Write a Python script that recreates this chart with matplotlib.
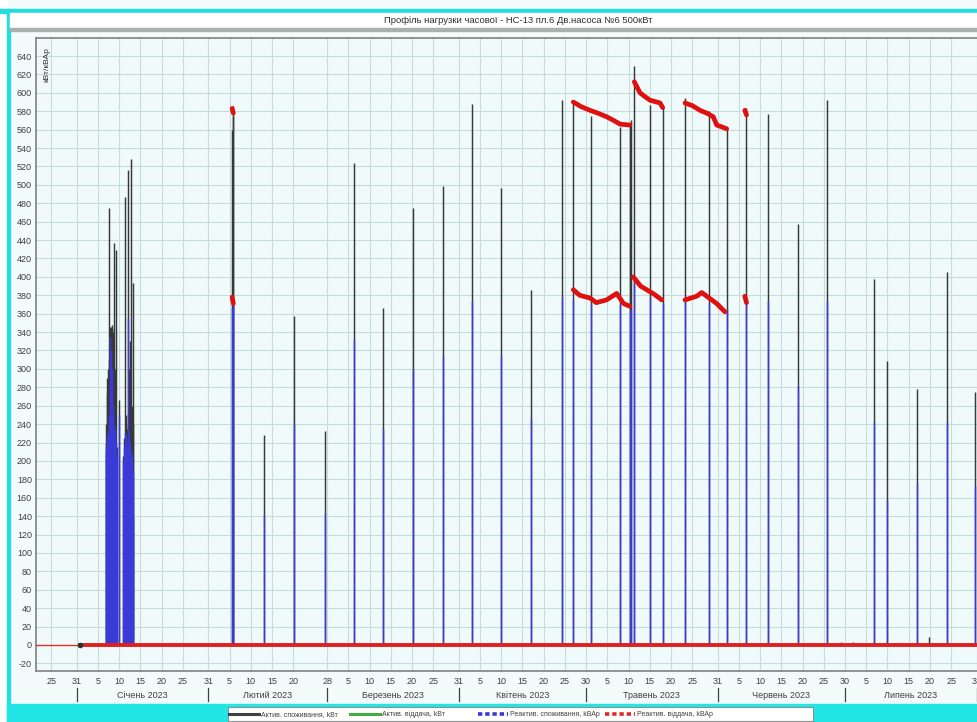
import matplotlib
matplotlib.use('Agg')
import matplotlib.pyplot as plt
import matplotlib.patches as patches
import matplotlib.transforms as mtransforms
import numpy as np
import pandas as pd

plt.rcParams['font.family'] = ['Liberation Sans', 'DejaVu Sans']

title = 'Профіль нагрузки часової - НС-13 пл.6 Дв.насоса №6 500кВт'
y_label = 'кВт/кВАр'
legend_labels = ['Актив. споживання, kВт', 'Актив. віддача, kВт',
                 'Реактив. споживання, kВАр', 'Реактив. віддача, kВАр']
month_labels = ['Січень 2023', 'Лютий 2023', 'Березень 2023', 'Квітень 2023',
                'Травень 2023', 'Червень 2023', 'Липень 2023']
month_starts = ['2023-01-01', '2023-02-01', '2023-03-01', '2023-04-01',
                '2023-05-01', '2023-06-01', '2023-07-01', '2023-08-01']
tick_days = ['2022-12-25', '2022-12-31',
             '2023-01-05', '2023-01-10', '2023-01-15', '2023-01-20', '2023-01-25', '2023-01-31',
             '2023-02-05', '2023-02-10', '2023-02-15', '2023-02-20', '2023-02-28',
             '2023-03-05', '2023-03-10', '2023-03-15', '2023-03-20', '2023-03-25', '2023-03-31',
             '2023-04-05', '2023-04-10', '2023-04-15', '2023-04-20', '2023-04-25', '2023-04-30',
             '2023-05-05', '2023-05-10', '2023-05-15', '2023-05-20', '2023-05-25', '2023-05-31',
             '2023-06-05', '2023-06-10', '2023-06-15', '2023-06-20', '2023-06-25', '2023-06-30',
             '2023-07-05', '2023-07-10', '2023-07-15', '2023-07-20', '2023-07-25', '2023-07-31']

# pump runs: time, active peak (kW), reactive peak (kVAr)
run_times = ['2023-01-07 19:00', '2023-01-07 22:30', '2023-01-08 02:00', '2023-01-08 05:30',
             '2023-01-08 09:00', '2023-01-08 12:30', '2023-01-08 16:00', '2023-01-08 19:30',
             '2023-01-08 23:00', '2023-01-09 02:30', '2023-01-09 06:00', '2023-01-09 09:00',
             '2023-01-09 12:00', '2023-01-09 15:30', '2023-01-09 19:00', '2023-01-09 23:30',
             '2023-01-10 04:30', '2023-01-10 09:00', '2023-01-11 01:00',
             '2023-01-12 00:30', '2023-01-12 04:30', '2023-01-12 09:00', '2023-01-12 13:00',
             '2023-01-12 17:30', '2023-01-12 21:30', '2023-01-13 03:45', '2023-01-13 07:00',
             '2023-01-13 10:30', '2023-01-13 14:30', '2023-01-13 19:00', '2023-01-13 23:30',
             '2023-01-14 03:30', '2023-01-14 08:00',
             '2023-02-06 14:00', '2023-02-06 18:00', '2023-02-06 22:00',
             '2023-02-14 04:30', '2023-02-21 04:30', '2023-02-28 12:00', '2023-03-07 07:40',
             '2023-03-14 03:40', '2023-03-21 05:20', '2023-03-28 05:20', '2023-04-04 04:30',
             '2023-04-10 22:50', '2023-04-18 00:30', '2023-04-25 06:00', '2023-04-27 23:45',
             '2023-05-02 02:00', '2023-05-08 23:45', '2023-05-11 10:00', '2023-05-11 14:00',
             '2023-05-12 08:40', '2023-05-16 01:30', '2023-05-19 01:10', '2023-05-24 07:10',
             '2023-05-30 00:30', '2023-06-03 03:00', '2023-06-07 14:30', '2023-06-12 22:00',
             '2023-06-19 23:45', '2023-06-26 19:40', '2023-06-30 00:00', '2023-07-02 21:00',
             '2023-07-07 19:40', '2023-07-10 19:25', '2023-07-17 21:00', '2023-07-20 19:00',
             '2023-07-25 02:10', '2023-07-31 14:25']
run_active = [220, 240, 274, 290,
              300, 310, 475, 330,
              345, 346, 348, 344,
              340, 338, 437, 300,
              429, 215, 266,
              205, 225, 487, 250,
              240, 235, 516, 300,
              330, 280, 528, 260,
              240, 393,
              560, 586, 575,
              228, 357, 232, 524,
              366, 475, 499, 588,
              497, 386, 592, 590,
              575, 563, 565, 571,
              629, 587, 583, 594,
              580, 562, 584, 577,
              458, 592, 3, 3,
              398, 309, 278, 9,
              405, 275]
run_reactive = [210, 215, 225, 228,
                232, 235, 250, 280,
                335, 320, 300, 280,
                260, 250, 240, 235,
                220, 205, 250,
                200, 215, 230, 228,
                225, 220, 355, 230,
                220, 215, 210, 205,
                190, 140,
                366, 372, 368,
                141, 240, 143, 332,
                235, 300, 314, 374,
                314, 247, 378, 376,
                372, 370, 362, 365,
                400, 378, 372, 376,
                372, 365, 374, 374,
                281, 374, 0, 0,
                242, 157, 176, 0,
                242, 173]

# reactive output trace, None splits the pieces
red_top_times = ['2023-02-06 14:30', '2023-02-06 21:30', None,
                 '2023-04-27 23:45', '2023-04-29 20:00', '2023-05-01 22:00', '2023-05-03 18:00',
                 '2023-05-05 20:00', '2023-05-07 12:00', '2023-05-08 23:45', '2023-05-11 08:10', None,
                 '2023-05-12 08:40', '2023-05-13 16:50', '2023-05-14 20:00', '2023-05-16 01:30',
                 '2023-05-18 09:50', '2023-05-19 01:10', None,
                 '2023-05-24 07:10', '2023-05-26 02:00', '2023-05-27 20:00', '2023-05-29 10:00',
                 '2023-05-30 23:00', '2023-05-31 18:30', '2023-06-03 03:00', None,
                 '2023-06-07 09:30', '2023-06-07 19:00']
red_top_vals = [583, 578, None,
                590, 585, 581, 578,
                574, 570, 566, 565, None,
                612, 600, 596, 592,
                589, 584, None,
                589, 586, 581, 578,
                574, 565, 561, None,
                581, 576]
red_low_times = ['2023-02-06 14:30', '2023-02-06 21:30', None,
                 '2023-04-27 23:45', '2023-04-29 12:00', '2023-05-01 22:00', '2023-05-03 10:00',
                 '2023-05-05 20:00', '2023-05-08 04:50', '2023-05-09 20:00', '2023-05-11 08:10', None,
                 '2023-05-12 03:00', '2023-05-13 20:00', '2023-05-15 06:45', '2023-05-17 02:00',
                 '2023-05-18 19:30', None,
                 '2023-05-24 07:10', '2023-05-27 01:30', '2023-05-28 06:00', '2023-05-29 09:50',
                 '2023-05-31 18:30', '2023-06-02 17:15', None,
                 '2023-06-07 09:30', '2023-06-07 19:00']
red_low_vals = [378, 371, None,
                386, 380, 377, 372,
                375, 382, 371, 368, None,
                400, 390, 386, 381,
                375, None,
                375, 379, 383, 379,
                371, 362, None,
                379, 372]

day0 = pd.Timestamp('2023-01-01')


def to_day(s):
    if s is None:
        return np.nan
    return (pd.Timestamp(s) - day0) / pd.Timedelta(days=1)


run_x = np.array([to_day(t) for t in run_times])
top_x = np.array([to_day(t) for t in red_top_times])
low_x = np.array([to_day(t) for t in red_low_times])
top_y = np.array([np.nan if v is None else v for v in red_top_vals], dtype=float)
low_y = np.array([np.nan if v is None else v for v in red_low_vals], dtype=float)

W, H = 977, 722
fig = plt.figure(figsize=(W / 100, H / 100), dpi=100)
fig.patch.set_facecolor('#f3fbfb')

# frame decoration in pixel coordinates
deco = fig.add_axes([0, 0, 1, 1], zorder=0)
deco.set_xlim(0, W)
deco.set_ylim(H, 0)
deco.axis('off')
deco.add_patch(patches.Rectangle((0, 0), 7, H, color='#ffffff'))
deco.add_patch(patches.Rectangle((7, 9), 3, H, color='#22dede'))
deco.add_patch(patches.Rectangle((0, 9), W, 4, color='#22dede'))
deco.add_patch(patches.Rectangle((10, 13), W, 15, color='#ffffff'))
deco.add_patch(patches.Rectangle((10, 28), W, 3, color='#a8b0b0'))
deco.add_patch(patches.Rectangle((7, 704), W, 18, color='#22e6e6'))
deco.add_patch(patches.Rectangle((228, 707), 585, 14, facecolor='#ffffff', edgecolor='#909090', lw=0.8))
deco.text(518, 20.5, title, ha='center', va='center', fontsize=6.8, color='#303030')

leg_x = [229, 350, 478, 605]
leg_styles = [dict(color='#404040', lw=2.2, ls='-'),
              dict(color='#44aa44', lw=2.2, ls='-'),
              dict(color='#3838d8', lw=2.6, ls=(0, (1.2, 0.8))),
              dict(color='#e02828', lw=2.6, ls=(0, (1.2, 0.8)))]
for lx, st, lab in zip(leg_x, leg_styles, legend_labels):
    deco.plot([lx, lx + 30], [714, 714], **st)
    deco.text(lx + 32, 714.5, lab, ha='left', va='center', fontsize=5, color='#404040')

# main chart
ax = fig.add_axes([36 / W, 1 - 671 / H, 1 - 36 / W, (671 - 38) / H], zorder=1)
ax.set_facecolor('#f0fafa')
x_left, x_right = -9.59, 212.09
ax.set_xlim(x_left, x_right)
ax.set_ylim(-28.3, 659.6)

tick_pos = [to_day(d) + 1 for d in tick_days]
ax.set_xticks(tick_pos)
ax.set_xticklabels([str(pd.Timestamp(d).day) for d in tick_days], fontsize=6.5, color='#404040')
ax.set_yticks(range(-20, 641, 20))
ax.set_yticklabels([str(v) for v in range(-20, 641, 20)], fontsize=6.5, color='#404040')
ax.tick_params(length=0, pad=4.5)
ax.tick_params(axis='y', pad=3)
ax.grid(True, color='#c6dcdc', lw=0.8)
ax.set_axisbelow(True)
for sp in ['left', 'bottom', 'top']:
    ax.spines[sp].set_color('#808080')
    ax.spines[sp].set_linewidth(1.2)
ax.spines['right'].set_visible(False)

ax.vlines(run_x, 0, run_active, color='#383838', lw=1.05, zorder=3)
ax.vlines(run_x, 0, run_reactive, color='#3a3ad6', lw=1.05, zorder=4)

ax.plot([x_left, 0.0], [0, 0], color='#e03030', lw=1.0, zorder=5)
ax.plot([0.75, x_right], [0, 0], color='#e02020', lw=2.8, zorder=5)
ax.plot([0.75], [0], marker='o', ms=3, color='#303030', zorder=6)
ax.plot(top_x, top_y, color='#e01010', lw=3.4, zorder=6, solid_capstyle='round')
ax.plot(low_x, low_y, color='#e01010', lw=3.4, zorder=6, solid_capstyle='round')

ax.text(0.008, 0.985, y_label, transform=ax.transAxes, rotation=90,
        ha='left', va='top', fontsize=6, color='#303030')

# month captions under the day numbers
trans = mtransforms.blended_transform_factory(ax.transData, ax.transAxes)
ms = [to_day(m) for m in month_starts]
for m in ms:
    if m < x_right:
        ax.plot([m, m], [-0.027, -0.047], transform=trans, color='#404040', lw=0.9, clip_on=False)
for i, lab in enumerate(month_labels):
    ax.text((ms[i] + ms[i + 1]) / 2, -0.038, lab, transform=trans, ha='center', va='center',
            fontsize=6.5, color='#404040')

fig.savefig('out.png', dpi=100, facecolor=fig.get_facecolor())
